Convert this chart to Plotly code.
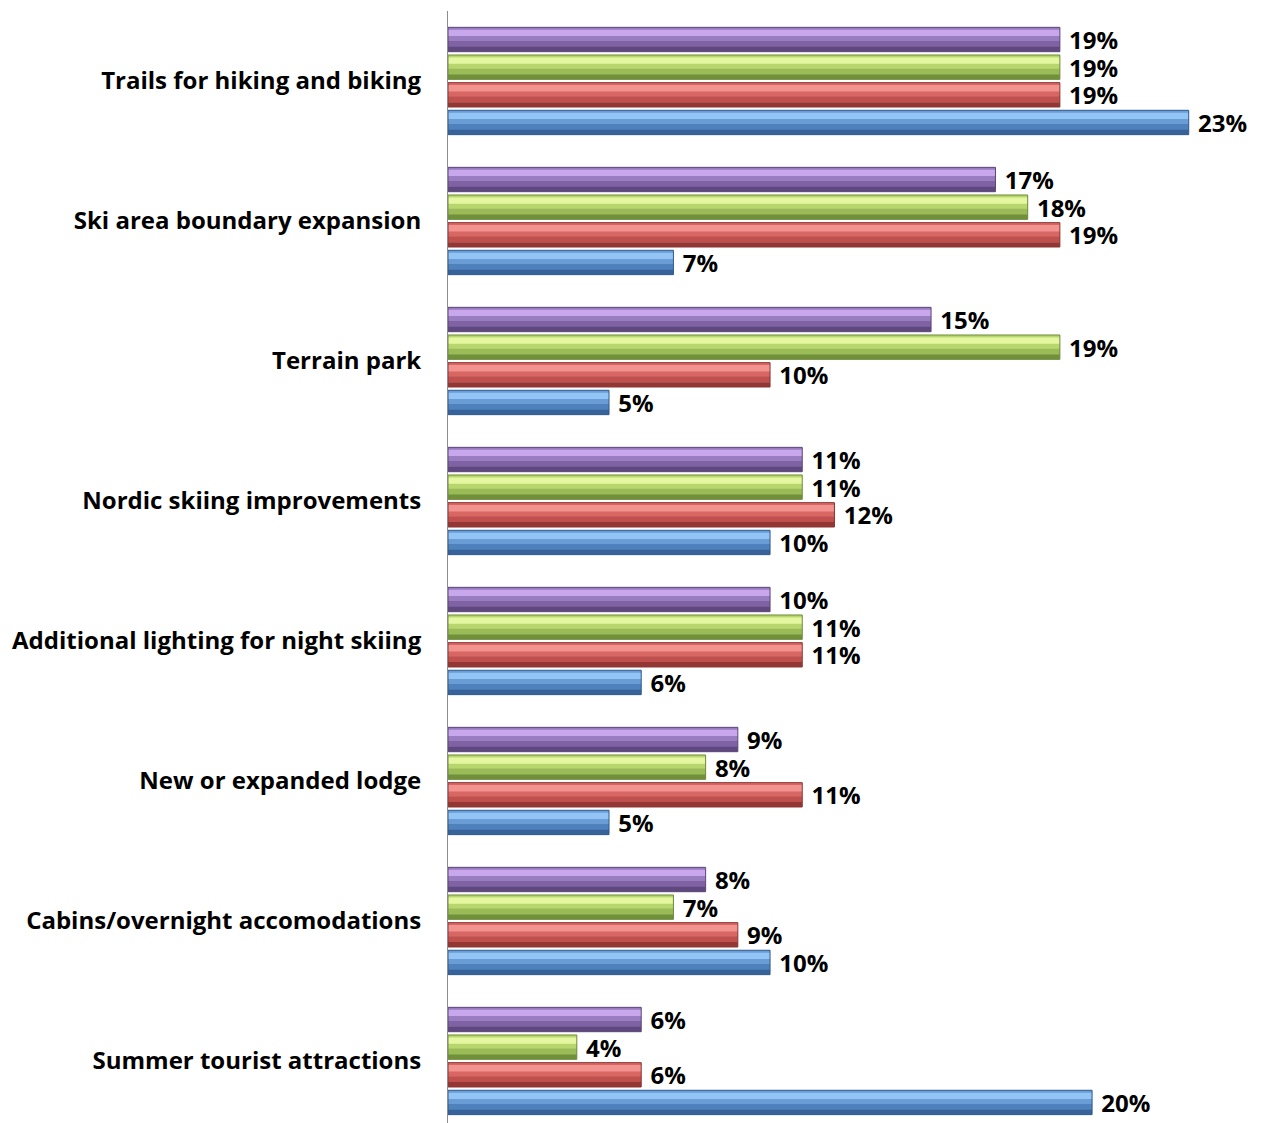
import plotly.graph_objects as go

categories = [
    "Trails for hiking and biking",
    "Ski area boundary expansion",
    "Terrain park",
    "Nordic skiing improvements",
    "Additional lighting for night skiing",
    "New or expanded lodge",
    "Cabins/overnight accomodations",
    "Summer tourist attractions",
]
# series from top bar to bottom bar within each group
purple_vals = [19, 17, 15, 11, 10, 9, 8, 6]
green_vals = [19, 18, 19, 11, 11, 8, 7, 4]
red_vals = [19, 19, 10, 12, 11, 11, 9, 6]
blue_vals = [23, 7, 5, 10, 6, 5, 10, 20]

# shades: (edge, light, midlight, mid, dark)
series = [
    ("Purple", purple_vals, ("#5c4677", "#c9a7ec", "#9a7cc0", "#7f62a4", "#5f4880")),
    ("Green", green_vals, ("#6f8a3a", "#e4f7a0", "#b8d66e", "#9bbb59", "#71903a")),
    ("Red", red_vals, ("#8c3532", "#f39390", "#d86663", "#c0504d", "#933634")),
    ("Blue", blue_vals, ("#2f5a8c", "#92c4f5", "#6a9dd6", "#4f81bd", "#37629a")),
]

FONT = "Open Sans"
PITCH = 0.1975
BAR_W = 0.174
# gradient bands within a bar: (start fraction, end fraction, shade index)
bands = [(0.0, 0.12, 2), (0.10, 0.38, 1), (0.36, 0.58, 2), (0.56, 0.82, 3), (0.80, 1.0, 4)]

fig = go.Figure()
for i, (name, vals, shades) in enumerate(series):
    top = (i - 1.5) * PITCH - BAR_W / 2
    for a, b, k in bands:
        fig.add_trace(go.Bar(
            y=categories, x=vals, orientation="h", name=name,
            offset=top + a * BAR_W, width=(b - a) * BAR_W,
            marker=dict(color=shades[k], line=dict(width=0)),
            hoverinfo="skip", showlegend=False,
        ))
    fig.add_trace(go.Bar(
        y=categories, x=vals, orientation="h", name=name,
        offset=top, width=BAR_W,
        marker=dict(color="rgba(0,0,0,0)", line=dict(color=shades[0], width=1)),
        text=[f" {v}%" for v in vals], textposition="outside",
        constraintext="none",
        textfont=dict(family=FONT, size=24, color="black", weight="bold"),
        cliponaxis=False,
    ))

fig.update_layout(
    width=1258, height=1115,
    margin=dict(l=440, r=0, t=3, b=0, autoexpand=False),
    barmode="overlay",
    plot_bgcolor="white", paper_bgcolor="white",
    showlegend=False,
    uniformtext=dict(mode=False),
)
fig.update_xaxes(range=[0, 25.4], visible=False, automargin=False)
fig.update_yaxes(
    type="category", categoryorder="array", categoryarray=categories,
    range=[7.443, -0.5], automargin=False,
    showline=True, linecolor="#8c8c8c", linewidth=1,
    showgrid=False, ticks="", ticklabelstandoff=21,
    tickfont=dict(family=FONT, size=24, color="black", weight="bold"),
)
fig.write_html("out.html")
